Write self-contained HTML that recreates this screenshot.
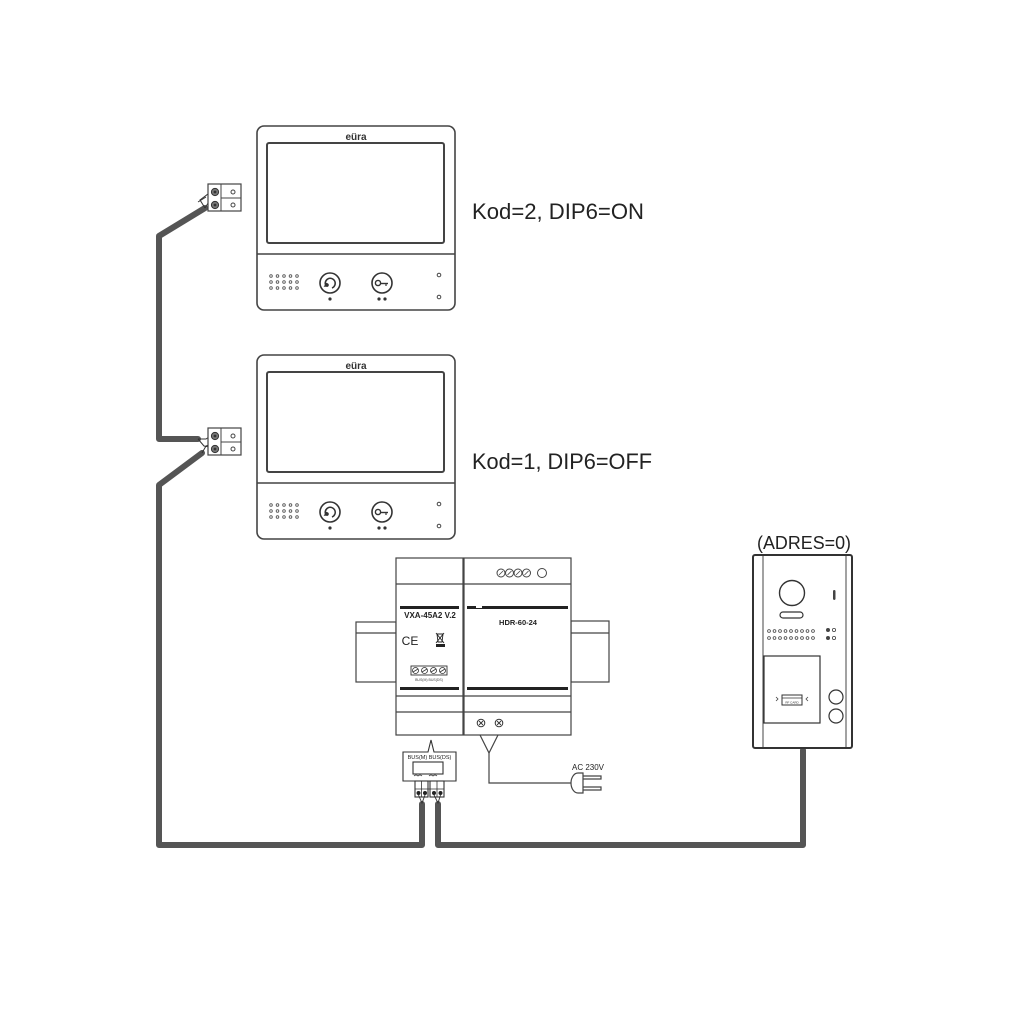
<!DOCTYPE html>
<html>
<head>
<meta charset="utf-8">
<style>
html,body{margin:0;padding:0;background:#fff;}
svg{display:block;}
</style>
</head>
<body>
<svg width="1024" height="1024" viewBox="0 0 1024 1024" xmlns="http://www.w3.org/2000/svg">
<rect width="1024" height="1024" fill="#fff"/>

<!-- ============ WIRES ============ -->
<g fill="none" stroke="#555" stroke-width="6" stroke-linejoin="round" stroke-linecap="round">
  <polyline points="205,208 159,236 159,439 198,439"/>
  <polyline points="202,453 159,485 159,845 422,845 422,804"/>
  <polyline points="438,804 438,845 803,845 803,750"/>
</g>
<!-- thin wire ends to screws -->
<g fill="none" stroke="#333" stroke-width="1">
  <path d="M205,208 L200,200 L208,194 L215,192"/>
  <path d="M205,208 L210,200 L215,205"/>
  <path d="M198,202 L206,197"/>
  <path d="M198,439 L206,439 L212,435 L215,436"/>
  <path d="M198,439 L204,446 L215,448"/>
  <path d="M202,453 L206,446 L211,444"/>
</g>

<!-- ============ MONITOR TEMPLATE ============ -->
<defs>
  <g id="mon">
    <rect x="257" y="126" width="198" height="184" rx="7" fill="#fff" stroke="#444" stroke-width="1.6"/>
    <rect x="267" y="143" width="177" height="100" rx="2" fill="#fff" stroke="#444" stroke-width="2"/>
    <line x1="257" y1="254" x2="455" y2="254" stroke="#444" stroke-width="1.4"/>
    <text x="356" y="140" font-family="Liberation Sans, sans-serif" font-size="10" font-weight="bold" text-anchor="middle" fill="#333">eüra</text>
    <!-- speaker -->
    <g fill="none" stroke="#555" stroke-width="0.9">
      <circle cx="271" cy="276" r="1.3"/><circle cx="277.5" cy="276" r="1.3"/><circle cx="284" cy="276" r="1.3"/><circle cx="290.5" cy="276" r="1.3"/><circle cx="297" cy="276" r="1.3"/>
      <circle cx="271" cy="282" r="1.3"/><circle cx="277.5" cy="282" r="1.3"/><circle cx="284" cy="282" r="1.3"/><circle cx="290.5" cy="282" r="1.3"/><circle cx="297" cy="282" r="1.3"/>
      <circle cx="271" cy="288" r="1.3"/><circle cx="277.5" cy="288" r="1.3"/><circle cx="284" cy="288" r="1.3"/><circle cx="290.5" cy="288" r="1.3"/><circle cx="297" cy="288" r="1.3"/>
    </g>
    <!-- buttons -->
    <circle cx="330" cy="283" r="10" fill="#fff" stroke="#333" stroke-width="1.6"/>
    <path d="M326,286 a5,5 0 1 1 6,2 M327,283 l-2,3 l3,0" fill="none" stroke="#333" stroke-width="1.5"/>
    <circle cx="327" cy="285" r="1.8" fill="#333"/>
    <circle cx="382" cy="283" r="10" fill="#fff" stroke="#333" stroke-width="1.6"/>
    <circle cx="378" cy="283" r="2.6" fill="none" stroke="#333" stroke-width="1.4"/>
    <line x1="380.5" y1="283.5" x2="388" y2="283.5" stroke="#333" stroke-width="1.4"/>
    <line x1="386" y1="283.5" x2="386" y2="286" stroke="#333" stroke-width="1.2"/>
    <circle cx="330" cy="299" r="1.6" fill="#333"/>
    <circle cx="379" cy="299" r="1.6" fill="#333"/>
    <circle cx="385" cy="299" r="1.6" fill="#333"/>
    <circle cx="439" cy="275" r="1.8" fill="none" stroke="#444" stroke-width="1"/>
    <circle cx="439" cy="297" r="1.8" fill="none" stroke="#444" stroke-width="1"/>
  </g>
  <g id="term">
    <rect x="208" y="184" width="33" height="27" fill="#fff" stroke="#444" stroke-width="1.2"/>
    <line x1="221" y1="184" x2="221" y2="211" stroke="#444" stroke-width="1"/>
    <line x1="221" y1="198" x2="241" y2="198" stroke="#444" stroke-width="1"/>
    <circle cx="215" cy="192" r="3.6" fill="#777" stroke="#333" stroke-width="1"/>
    <circle cx="215" cy="192" r="1.4" fill="#333"/>
    <circle cx="215" cy="205" r="3.6" fill="#777" stroke="#333" stroke-width="1"/>
    <circle cx="215" cy="205" r="1.4" fill="#333"/>
    <circle cx="233" cy="192" r="2" fill="none" stroke="#444" stroke-width="1"/>
    <circle cx="233" cy="205" r="2" fill="none" stroke="#444" stroke-width="1"/>
  </g>
</defs>

<use href="#mon"/>
<use href="#term"/>
<g transform="translate(0,229)"><use href="#mon"/></g>
<g transform="translate(0,244)"><use href="#term"/></g>

<!-- labels -->
<text x="472" y="219" font-family="Liberation Sans, sans-serif" font-size="22" fill="#222" textLength="172" lengthAdjust="spacingAndGlyphs">Kod=2, DIP6=ON</text>
<text x="472" y="469" font-family="Liberation Sans, sans-serif" font-size="22" fill="#222" textLength="180" lengthAdjust="spacingAndGlyphs">Kod=1, DIP6=OFF</text>

<!-- ============ DIN MODULES ============ -->
<g stroke="#444" stroke-width="1.2" fill="#fff">
  <!-- rails -->
  <rect x="356" y="622" width="40" height="60"/>
  <line x1="356" y1="633" x2="396" y2="633"/>
  <rect x="571" y="621" width="38" height="61"/>
  <line x1="571" y1="633" x2="609" y2="633"/>
  <!-- left module -->
  <rect x="396" y="558" width="67" height="177"/>
  <line x1="396" y1="584" x2="463" y2="584"/>
  <line x1="396" y1="696" x2="463" y2="696"/>
  <line x1="396" y1="712" x2="463" y2="712"/>
  <!-- right module -->
  <rect x="464" y="558" width="107" height="177"/>
  <line x1="464" y1="584" x2="571" y2="584"/>
  <line x1="464" y1="696" x2="571" y2="696"/>
  <line x1="464" y1="712" x2="571" y2="712"/>
</g>
<g fill="#222">
  <rect x="400" y="606" width="59" height="3"/>
  <rect x="400" y="687" width="59" height="3"/>
  <rect x="467" y="606" width="101" height="3"/>
  <rect x="467" y="687" width="101" height="3"/>
</g>
<rect x="476" y="606" width="6" height="2" fill="#fff"/>
<text x="430" y="618" font-family="Liberation Sans, sans-serif" font-size="8" font-weight="bold" text-anchor="middle" fill="#222">VXA-45A2 V.2</text>
<text x="518" y="625" font-family="Liberation Sans, sans-serif" font-size="7.5" font-weight="bold" text-anchor="middle" fill="#222">HDR-60-24</text>
<text x="410" y="645" font-family="Liberation Sans, sans-serif" font-size="12" text-anchor="middle" fill="#222">CE</text>
<!-- WEEE bin -->
<g stroke="#222" stroke-width="0.9" fill="none">
  <path d="M437,634 L443,634 L442,642 L438,642 Z"/>
  <line x1="436" y1="633" x2="444" y2="643"/>
  <line x1="444" y1="633" x2="436" y2="643"/>
</g>
<rect x="436" y="644" width="9" height="3" fill="#222"/>
<!-- small terminal strip -->
<rect x="411" y="666" width="36" height="9" fill="#fff" stroke="#333" stroke-width="0.9"/>
<g fill="none" stroke="#333" stroke-width="0.8">
  <circle cx="415.5" cy="670.5" r="3"/><circle cx="424.5" cy="670.5" r="3"/><circle cx="433.5" cy="670.5" r="3"/><circle cx="442.5" cy="670.5" r="3"/>
  <line x1="413" y1="672" x2="418" y2="669"/><line x1="422" y1="672" x2="427" y2="669"/><line x1="431" y1="672" x2="436" y2="669"/><line x1="440" y1="672" x2="445" y2="669"/>
</g>
<text x="429" y="681" font-family="Liberation Sans, sans-serif" font-size="3.5" text-anchor="middle" fill="#444">BUS(M)  BUS(DS)</text>
<!-- top circles right module -->
<g fill="#fff" stroke="#444" stroke-width="1">
  <circle cx="501" cy="573" r="4"/><circle cx="509.5" cy="573" r="4"/><circle cx="518" cy="573" r="4"/><circle cx="526.5" cy="573" r="4"/>
  <circle cx="542" cy="573" r="4.5"/>
</g>
<g stroke="#444" stroke-width="0.8"><line x1="499" y1="575" x2="503" y2="571"/><line x1="507.5" y1="575" x2="511.5" y2="571"/><line x1="516" y1="575" x2="520" y2="571"/><line x1="524.5" y1="575" x2="528.5" y2="571"/></g>
<!-- bottom screws -->
<g fill="#fff" stroke="#333" stroke-width="1">
  <circle cx="481" cy="723" r="3.8"/><circle cx="499" cy="723" r="3.8"/>
</g>
<g stroke="#333" stroke-width="0.9"><line x1="479" y1="725" x2="483" y2="721"/><line x1="479" y1="721" x2="483" y2="725"/><line x1="497" y1="725" x2="501" y2="721"/><line x1="497" y1="721" x2="501" y2="725"/></g>

<!-- Y connector & plug -->
<g fill="none" stroke="#444" stroke-width="1.2">
  <polyline points="480,735 489,753 498,735"/>
  <polyline points="489,753 489,783 574,783"/>
  <path d="M583,773 L578,773 A7,10 0 0 0 578,793 L583,793 Z" fill="#fff"/>
  <path d="M583,776 L601,776 L601,779 L583,779 M583,787 L601,787 L601,790 L583,790"/>
</g>
<text x="588" y="770" font-family="Liberation Sans, sans-serif" font-size="8" text-anchor="middle" fill="#222">AC 230V</text>

<!-- BUS box -->
<g fill="#fff" stroke="#333" stroke-width="1.1">
  <path d="M403,752 L428,752 L431,740 L434,752 L456,752 L456,781 L403,781 Z"/>
  <rect x="413" y="762" width="30" height="12"/>
  <rect x="415" y="781" width="13" height="16"/>
  <rect x="430" y="781" width="14" height="16"/>
</g>
<text x="429.5" y="759" font-family="Liberation Sans, sans-serif" font-size="5.5" text-anchor="middle" fill="#222">BUS(M) BUS(DS)</text>
<g stroke="#333" stroke-width="0.8" fill="none">
  <line x1="421.5" y1="781" x2="421.5" y2="797"/><line x1="437" y1="781" x2="437" y2="797"/>
  <line x1="415" y1="789" x2="444" y2="789"/>
  <path d="M414,776 q2,-2 4,0 q2,-2 4,0 M429,776 q2,-2 4,0 q2,-2 4,0"/>
</g>
<g fill="#222">
  <circle cx="418.5" cy="793" r="2"/><circle cx="425" cy="793" r="2"/>
  <circle cx="434" cy="793" r="2"/><circle cx="440.5" cy="793" r="2"/>
</g>
<g stroke="#333" stroke-width="0.9" fill="none">
  <path d="M418.5,795 L422,803 L425,795"/>
  <path d="M434,795 L438,803 L440.5,795"/>
</g>

<!-- ============ DOOR STATION ============ -->
<text x="804" y="549" font-family="Liberation Sans, sans-serif" font-size="18" text-anchor="middle" fill="#222" textLength="94" lengthAdjust="spacingAndGlyphs">(ADRES=0)</text>
<rect x="753" y="555" width="99" height="193" rx="2" fill="#fff" stroke="#333" stroke-width="2"/>
<line x1="763" y1="556" x2="763" y2="747" stroke="#444" stroke-width="1"/>
<line x1="846" y1="556" x2="846" y2="747" stroke="#444" stroke-width="1"/>
<circle cx="792" cy="593" r="12.5" fill="#fff" stroke="#333" stroke-width="1.4"/>
<rect x="780" y="612" width="23" height="6" rx="3" fill="#fff" stroke="#333" stroke-width="1.2"/>
<rect x="833" y="590" width="2.5" height="10" rx="1.2" fill="#444"/>
<g fill="none" stroke="#444" stroke-width="0.8">
  <circle cx="769" cy="631" r="1.4"/><circle cx="774.5" cy="631" r="1.4"/><circle cx="780" cy="631" r="1.4"/><circle cx="785.5" cy="631" r="1.4"/><circle cx="791" cy="631" r="1.4"/><circle cx="796.5" cy="631" r="1.4"/><circle cx="802" cy="631" r="1.4"/><circle cx="807.5" cy="631" r="1.4"/><circle cx="813" cy="631" r="1.4"/>
  <circle cx="769" cy="638" r="1.4"/><circle cx="774.5" cy="638" r="1.4"/><circle cx="780" cy="638" r="1.4"/><circle cx="785.5" cy="638" r="1.4"/><circle cx="791" cy="638" r="1.4"/><circle cx="796.5" cy="638" r="1.4"/><circle cx="802" cy="638" r="1.4"/><circle cx="807.5" cy="638" r="1.4"/><circle cx="813" cy="638" r="1.4"/>
  <circle cx="834" cy="630" r="1.6"/><circle cx="834" cy="638" r="1.6"/>
</g>
<circle cx="828" cy="630" r="2" fill="#444"/>
<circle cx="828" cy="638" r="2" fill="#444"/>
<rect x="764" y="656" width="56" height="67" fill="#fff" stroke="#333" stroke-width="1.2"/>
<rect x="782" y="695" width="20" height="10" fill="#fff" stroke="#333" stroke-width="1"/>
<line x1="782" y1="698" x2="802" y2="698" stroke="#333" stroke-width="0.8"/>
<text x="792" y="703.5" font-family="Liberation Sans, sans-serif" font-size="3" text-anchor="middle" fill="#333">RF CARD</text>
<path d="M776,697 l2,2 l-2,2" fill="none" stroke="#444" stroke-width="0.8"/>
<path d="M808,697 l-2,2 l2,2" fill="none" stroke="#444" stroke-width="0.8"/>
<circle cx="836" cy="697" r="7" fill="#fff" stroke="#333" stroke-width="1.2"/>
<circle cx="836" cy="716" r="7" fill="#fff" stroke="#333" stroke-width="1.2"/>
</svg>
</body>
</html>
